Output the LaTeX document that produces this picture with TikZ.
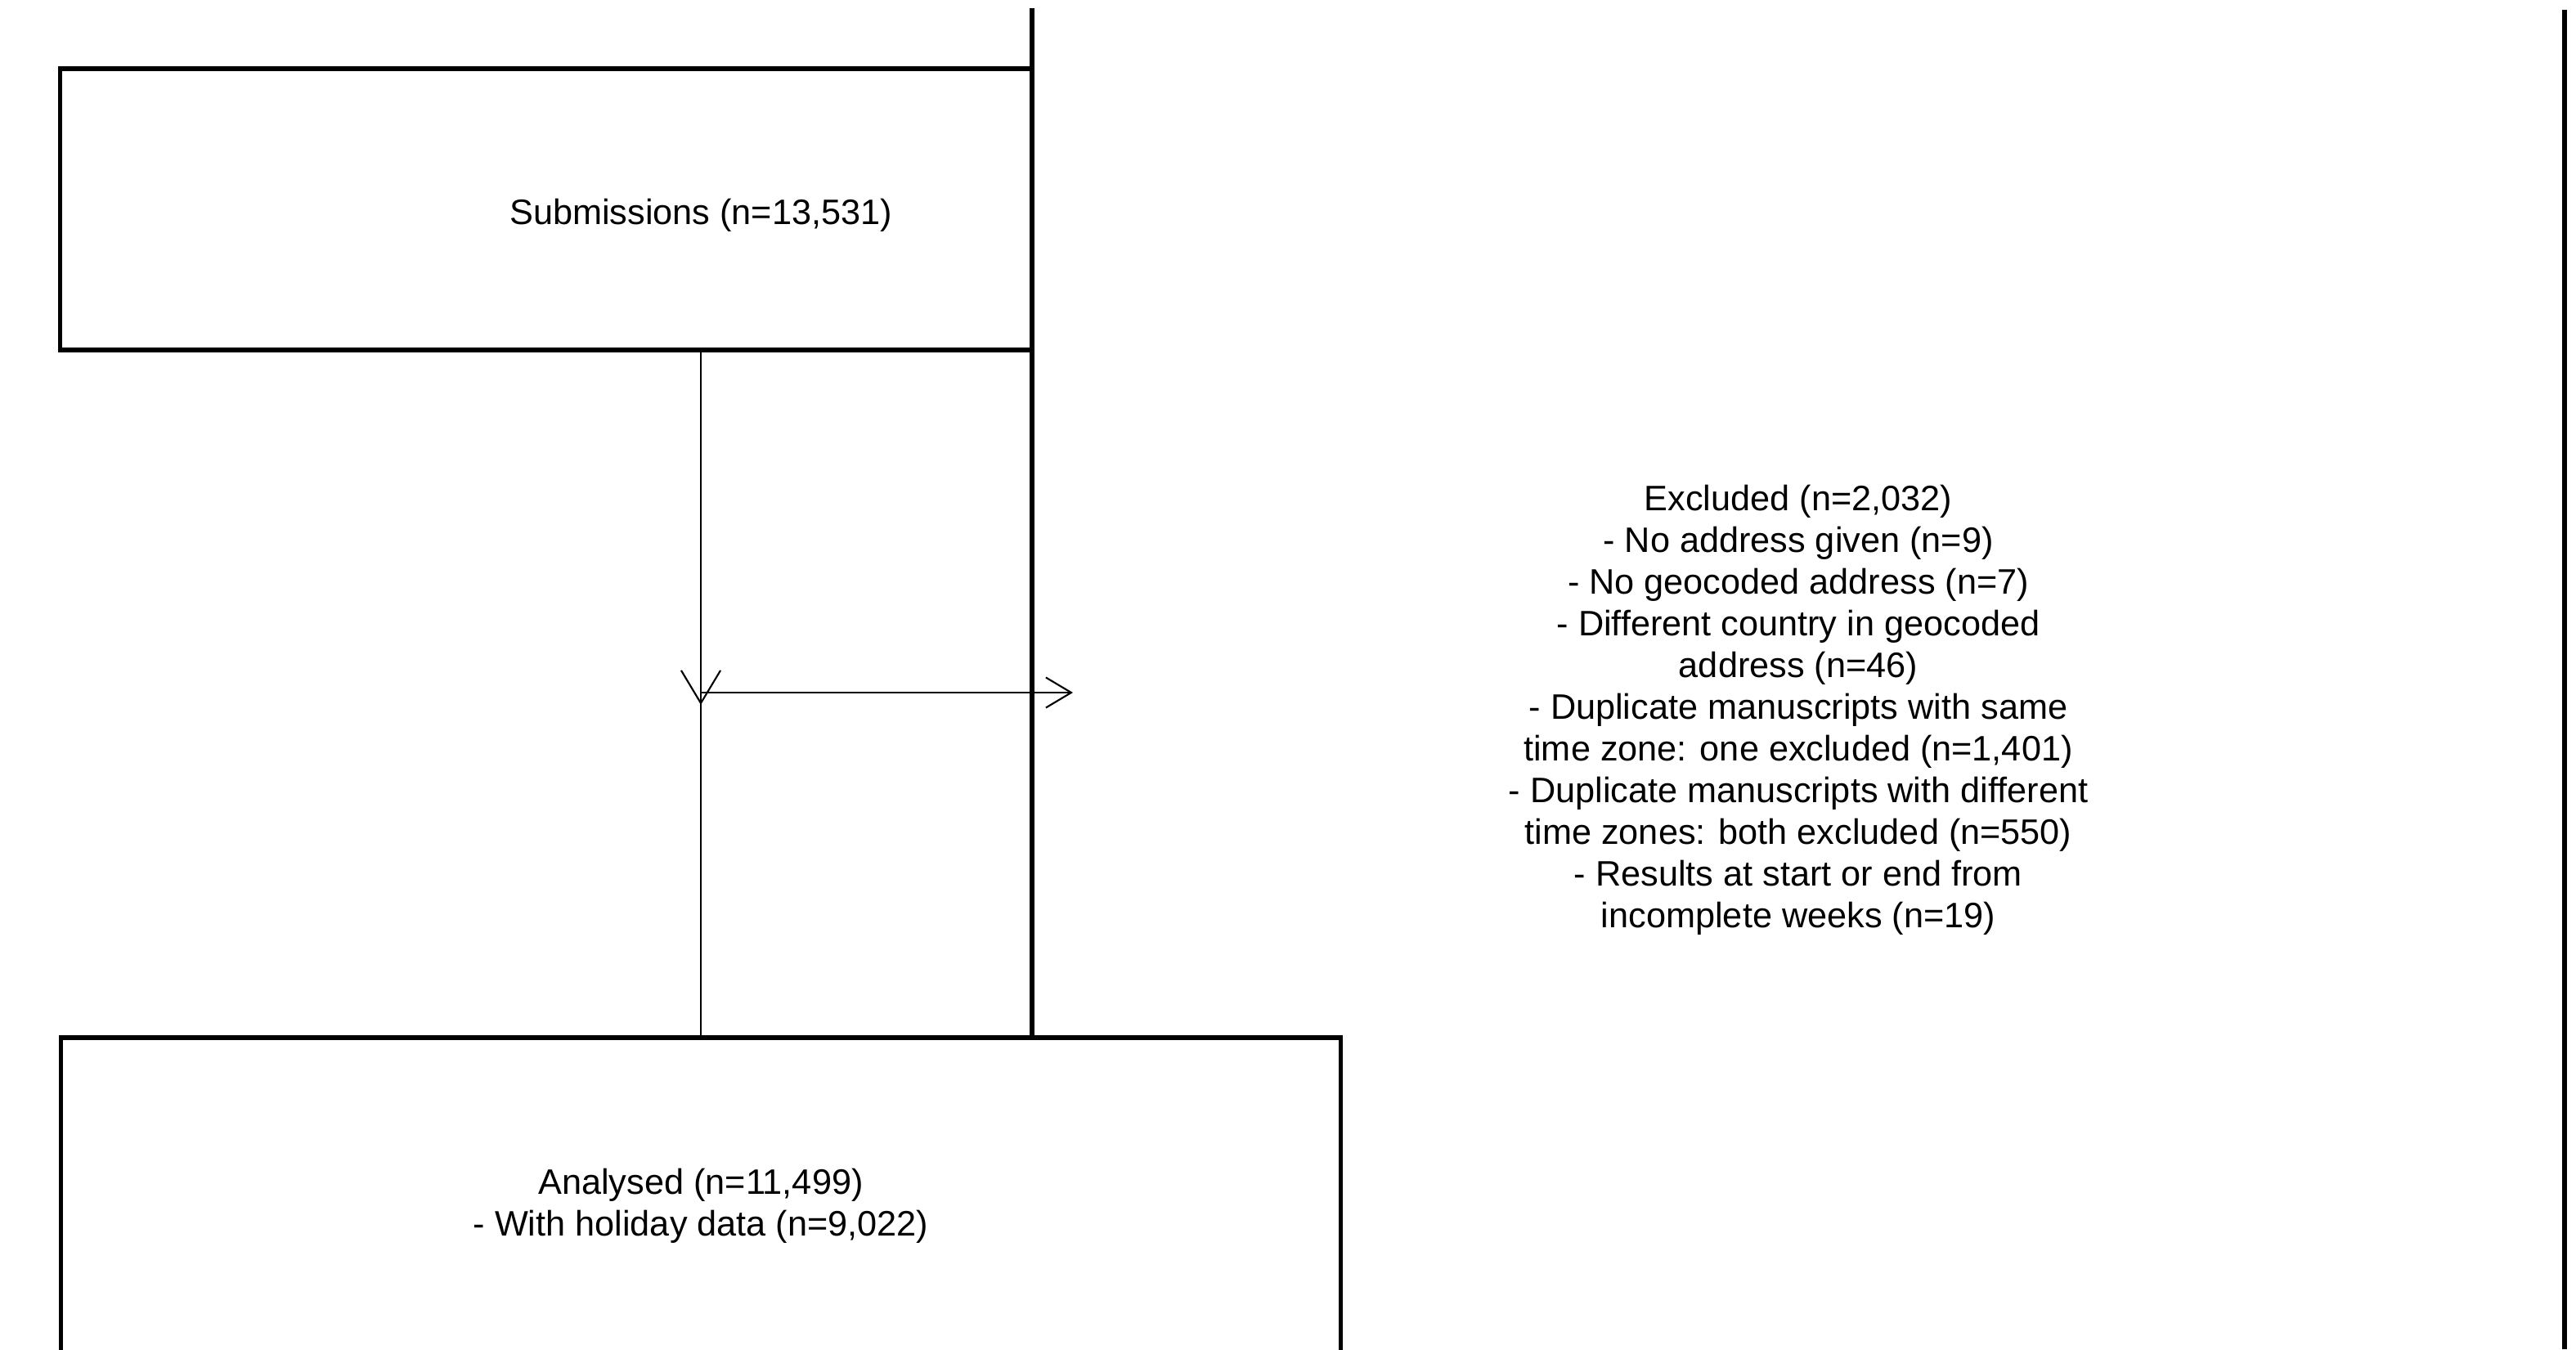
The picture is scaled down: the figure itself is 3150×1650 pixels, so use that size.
\documentclass[tikz,border=0pt]{standalone}
\usepackage{fontspec}
\setmainfont{Liberation Sans}
\usetikzlibrary{arrows.meta}
\begin{document}
\begin{tikzpicture}[x=0.01cm,y=-0.01cm,
  heavy/.style={line width=1.6pt},
  light/.style={line width=0.6pt},
  txt/.style={font=\fontsize{12.3}{14.5}\selectfont, align=center, inner sep=0pt},
  barbdown/.style={-{Straight Barb[length=0.4cm,width=0.48cm]}},
  barbright/.style={-{Straight Barb[length=0.31cm,width=0.37cm]}}
]
\useasboundingbox (0,0) rectangle (3150,1650);
\fill[white] (0,0) rectangle (3150,1650);

% submissions box and its label
\node[draw, heavy, minimum width=11.88cm, minimum height=3.44cm, inner sep=0pt] (sub) at (668,256) {};
\node[txt] (subtxt) at (857,263) {Submissions (n=13,531)};

% column dividers
\coordinate (dtop) at (1262,10);
\coordinate (dbot) at (1262,1266);
\draw[heavy] (dtop) -- (dbot);
\coordinate (rtop) at (3136,12);
\coordinate (rbot) at (3136,1650);
\draw[heavy] (rtop) -- (rbot);

% analysed box
\node[draw, heavy, minimum width=15.64cm, minimum height=4.12cm, anchor=north, txt] (ana) at (857,1266)
  {Analysed (n=11,499)\\- With holiday data (n=9,022)};

% excluded list
\node[txt] (exc) at (2199,868) {Excluded (n=2,032)\\
- No address given (n=9)\\
- No geocoded address (n=7)\\
- Different country in geocoded\\
address (n=46)\\
- Duplicate manuscripts with same\\
time zone: one excluded (n=1,401)\\
- Duplicate manuscripts with different\\
time zones: both excluded (n=550)\\
- Results at start or end from\\
incomplete weeks (n=19)};

% flow connectors
\coordinate (split) at (857,847);
\coordinate (tip) at (857,862);
\coordinate (exit) at (1312,847);
\draw[light, barbdown] (sub.south -| split) -- (tip);
\draw[light] (split) -- (ana.north -| split);
\draw[light, barbright] (split) -- (exit);
\end{tikzpicture}
\end{document}
